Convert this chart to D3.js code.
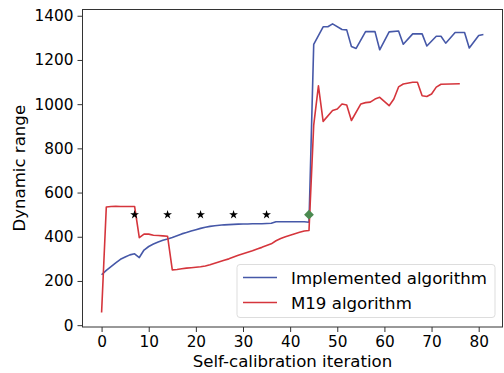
<!DOCTYPE html>
<html>
<head>
<meta charset="utf-8">
<script src="https://cdn.jsdelivr.net/npm/d3@7"></script>
<style>
  body { margin: 0; background: #fff; }
  text { font-family: "DejaVu Sans", sans-serif; fill: #000; }
</style>
</head>
<body>
<svg id="chart"></svg>
<script>
// Implemented algorithm
var implX = [0, 1, 2, 3, 4, 5, 6, 7, 8, 9, 10, 11, 12, 13, 14, 15, 16, 17, 18, 19, 20,
  21, 22, 23, 24, 25, 26, 27, 28, 29, 30, 31, 32, 33, 34, 35, 36, 37, 43, 44,
  45, 47, 48, 49, 51, 52, 53, 54, 56, 58, 59, 61, 63, 64, 66, 68, 69, 71, 72, 73, 75, 77, 78, 80, 81];
var implY = [228, 248, 265, 282, 298, 308, 318, 323, 306, 340, 356, 367, 376, 384, 390, 397, 405, 413, 419, 426, 432,
  438, 443, 447, 450, 452, 454, 455, 456, 457, 458, 458, 459, 459, 459, 460, 461, 468, 468, 466,
  1270, 1350, 1350, 1363, 1338, 1336, 1261, 1252, 1328, 1328, 1246, 1327, 1331, 1271, 1318, 1318, 1263, 1307, 1307, 1276, 1324, 1324, 1254, 1311, 1315];

// M19 algorithm
var m19X = [0, 1, 2, 3, 4, 5, 6, 7, 8, 9, 10, 11, 12, 13, 14, 15, 16, 17, 18, 19, 20,
  21, 22, 23, 24, 25, 26, 27, 28, 29, 30, 31, 32, 33, 34, 35, 36, 37, 38, 39, 40, 41, 42, 43, 44,
  45, 46, 47, 49, 50, 51, 52, 53, 55, 56, 57, 58, 59, 61, 62, 63, 64, 66, 67, 68, 69, 70, 71, 72, 76];
var m19Y = [57, 535, 537, 538, 537, 537, 537, 537, 396, 412, 412, 407, 406, 404, 402, 250, 252, 255, 258, 260, 262,
  264, 268, 273, 280, 287, 294, 300, 308, 316, 323, 330, 337, 345, 352, 360, 368, 382, 392, 400, 407, 414, 420, 426, 428,
  905, 1083, 922, 971, 978, 1001, 996, 926, 1001, 1007, 1009, 1023, 1031, 993, 1023, 1078, 1091, 1099, 1099, 1038, 1035, 1046, 1077, 1090, 1092];

var starX = [7, 14, 21, 28, 35];
var starY = [500, 500, 500, 500, 500];
var diamondX = [44];
var diamondY = [500];

var xTicks = [0, 10, 20, 30, 40, 50, 60, 70, 80];
var yTicks = [0, 200, 400, 600, 800, 1000, 1200, 1400];
var seriesNames = ["Implemented algorithm", "M19 algorithm"];

var svgWidth = 504, svgHeight = 373;
var plotLeft = 82.5, plotRight = 502.5, plotTop = 9.5, plotBottom = 327;
var blue = "#4658a8", red = "#d5353c", green = "#4b8a50";

var svg = d3.select("#chart")
  .attr("width", svgWidth)
  .attr("height", svgHeight);

// matplotlib style 5% padding on the data extent
function padded(vals) {
  var lo = d3.min(vals), hi = d3.max(vals), p = (hi - lo) * 0.05;
  return [lo - p, hi + p];
}

var xScale = d3.scaleLinear()
  .domain(padded(implX.concat(m19X)))
  .range([plotLeft, plotRight]);

var yScale = d3.scaleLinear()
  .domain(padded(implY.concat(m19Y)))
  .range([plotBottom, plotTop]);

function pairs(xs, ys) {
  return xs.map(function (d, i) { return [d, ys[i]]; });
}

var line = d3.line()
  .x(function (d) { return xScale(d[0]); })
  .y(function (d) { return yScale(d[1]); });

svg.append("path")
  .datum(pairs(implX, implY))
  .attr("d", line)
  .attr("fill", "none")
  .attr("stroke", blue)
  .attr("stroke-width", 1.6)
  .attr("stroke-linejoin", "round");

svg.append("path")
  .datum(pairs(m19X, m19Y))
  .attr("d", line)
  .attr("fill", "none")
  .attr("stroke", red)
  .attr("stroke-width", 1.6)
  .attr("stroke-linejoin", "round");

// star markers
svg.selectAll(".star")
  .data(pairs(starX, starY))
  .enter()
  .append("path")
  .attr("class", "star")
  .attr("d", d3.symbol().type(d3.symbolStar).size(24))
  .attr("transform", function (d) {
    return "translate(" + xScale(d[0]) + "," + yScale(d[1]) + ")";
  })
  .attr("fill", "#000");

svg.selectAll(".diamond")
  .data(pairs(diamondX, diamondY))
  .enter()
  .append("path")
  .attr("class", "diamond")
  .attr("d", d3.symbol().type(d3.symbolSquare).size(48))
  .attr("transform", function (d) {
    return "translate(" + xScale(d[0]) + "," + yScale(d[1]) + ") rotate(45)";
  })
  .attr("fill", green);

// axes
var x_axis = d3.axisBottom(xScale).tickValues(xTicks).tickSize(5).tickPadding(4)
  .tickFormat(d3.format("d"));
var y_axis = d3.axisLeft(yScale).tickValues(yTicks).tickSize(5).tickPadding(4)
  .tickFormat(d3.format("d"));

var gx = svg.append("g")
  .attr("transform", "translate(0," + plotBottom + ")")
  .call(x_axis);
var gy = svg.append("g")
  .attr("transform", "translate(" + plotLeft + ",0)")
  .call(y_axis);

[gx, gy].forEach(function (g) {
  g.select(".domain").remove();
  g.selectAll("line").attr("stroke", "#333");
  g.selectAll("text")
    .style("font-family", "DejaVu Sans")
    .style("font-size", "15.3px")
    .attr("fill", "#000");
});

// frame
svg.append("rect")
  .attr("x", plotLeft)
  .attr("y", plotTop)
  .attr("width", plotRight - plotLeft)
  .attr("height", plotBottom - plotTop)
  .attr("fill", "none")
  .attr("stroke", "#333")
  .attr("stroke-width", 1);

svg.append("text")
  .attr("x", (plotLeft + plotRight) / 2)
  .attr("y", 367)
  .attr("text-anchor", "middle")
  .style("font-size", "16.6px")
  .text("Self-calibration iteration");

svg.append("text")
  .attr("transform", "translate(25," + (plotTop + plotBottom) / 2 + ") rotate(-90)")
  .attr("text-anchor", "middle")
  .style("font-size", "16.6px")
  .text("Dynamic range");

// legend
var legend = svg.append("g");
legend.append("rect")
  .attr("x", 237)
  .attr("y", 264.5)
  .attr("width", 258)
  .attr("height", 53)
  .attr("rx", 3)
  .attr("fill", "#fff")
  .attr("fill-opacity", 0.8)
  .attr("stroke", "#ddd");

var legendColors = [blue, red];
seriesNames.forEach(function (name, i) {
  var y = 277.5 + i * 25;
  legend.append("line")
    .attr("x1", 243).attr("x2", 277)
    .attr("y1", y).attr("y2", y)
    .attr("stroke", legendColors[i])
    .attr("stroke-width", 1.6);
  legend.append("text")
    .attr("x", 291)
    .attr("y", y + 6)
    .style("font-size", "16.6px")
    .text(name);
});
</script>
</body>
</html>
